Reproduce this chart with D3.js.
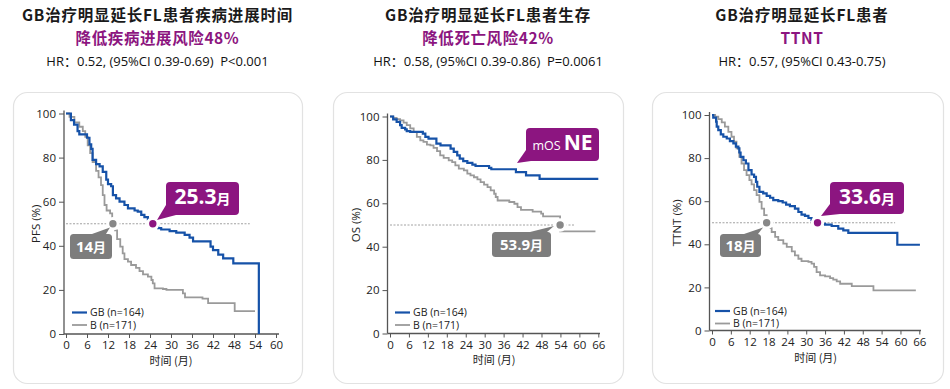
<!DOCTYPE html>
<html><head><meta charset="utf-8">
<script src="https://cdn.jsdelivr.net/npm/d3@7"></script>
<style>
html,body{margin:0;padding:0;background:#fff;}
svg{display:block;}
</style></head>
<body>
<svg id="c" width="950" height="389"></svg>
<script>
// ---------------- DATA ----------------
const titles = ["GB治疗明显延长FL患者疾病进展时间","GB治疗明显延长FL患者生存","GB治疗明显延长FL患者"];
const subtitles = ["降低疾病进展风险48%","降低死亡风险42%","TTNT"];
const hrTexts = ["HR：0.52, (95%CI 0.39-0.69)  P<0.001","HR：0.58, (95%CI 0.39-0.86)  P=0.0061","HR：0.57, (95%CI 0.43-0.75)"];
const yLabels = ["PFS (%)","OS (%)","TTNT (%)"];
const xLabel = "时间 (月)";
const legendLabels = ["GB (n=164)","B (n=171)"];
const xTicks1 = [0,6,12,18,24,30,36,42,48,54,60];
const xTicks23 = [0,6,12,18,24,30,36,42,48,54,60,66];
const yTicks = [0,20,40,60,80,100];

// PFS
const pfsGB = [[0,100],[1.4,97],[2.3,95],[3.3,92],[3.8,90.5],[6,89],[6.7,86],[7.2,84],[7.6,79],[8.6,77],[9.6,76],[10.5,73.5],[11.5,70],[12,68],[12.9,67],[13.4,63],[14.3,61.5],[15.3,60],[16.7,58.5],[17.7,57],[19.6,56],[20.5,55.5],[21.5,54],[22.4,53],[23.4,52],[24.4,51],[25.3,49],[26.3,48],[27.2,47.4],[29.6,46.7],[31.5,46],[33.9,45],[35.3,43.7],[36.3,42],[41.3,39.6],[42,38],[43.5,36],[44.9,34.3],[47.8,32],[55.1,0]];
const pfsB = [[0,100],[1,98.5],[2.4,96],[3.8,94],[4.8,92],[5.5,89.4],[6.2,85.6],[6.9,82],[7.6,78],[8.6,74],[9.3,71],[10,67.5],[10.5,63],[11,58.5],[11.6,56],[12.6,54.7],[13.2,51.7],[14,47],[14.6,43],[15.5,39.6],[16.2,36.6],[16.7,34],[17.7,32.8],[18.6,31.3],[20,30],[21,28.5],[22,27],[23.4,26],[24.4,24.5],[24.8,23],[25.3,20.7],[27.7,20.4],[28.7,20],[33.4,18.4],[34,16.6],[39,16],[40.6,14],[48.2,10.4],[54,10.4]];
// OS
const osGB = [[0,100],[1,98.7],[2.1,97.5],[3.2,96],[3.7,94.8],[4.8,94.1],[5.3,93.3],[6.4,92.9],[10.4,92.1],[11.2,90.6],[12.2,89.8],[14.7,87.5],[16,86.7],[19.2,85.2],[20.2,83.7],[21.3,82.1],[22.1,80.6],[23.2,79.4],[24.5,78.6],[26.1,77.8],[27.1,77.2],[31.4,76.3],[32.1,75.7],[39.9,74.4],[43.1,72.9],[47.4,71.3],[66,71.3]];
const osB = [[0,100],[1,99.4],[2.1,98.8],[3.2,98.2],[4.3,97.2],[5.3,96],[6.4,94.5],[7.5,92.9],[8.5,90.6],[9.6,89],[10.6,88.3],[11.7,87],[12.8,86.7],[13.8,85.5],[14.9,84],[15.9,82.1],[17,80.9],[18.6,79.8],[19.7,79],[20.7,77.5],[21.8,76],[23.4,75.2],[24.5,73.7],[25.5,72.9],[26.6,72],[27.7,71],[28.7,69.8],[29.8,68.6],[30.9,67.5],[31.9,66],[33,64.4],[33.5,62.9],[34.1,61.3],[37.8,60.6],[39.4,59.8],[40.4,58.2],[41.5,57],[45.2,56.2],[47.9,55.2],[48.5,54],[53.9,47.1],[65.1,47.1]];
// TTNT
const ttntGB = [[0,100],[0.4,98.8],[1.3,96.9],[1.5,94.6],[2,93],[2.8,91],[3.6,89.9],[4.7,89.1],[5.7,87.9],[6.8,86.8],[7.6,85.3],[8.4,84.5],[8.7,82.6],[9.1,80.6],[10,79],[10.8,77.5],[11.6,74.4],[12.6,72.4],[13.4,71.3],[14,69],[14.4,66.7],[15.1,64.3],[16.3,63.6],[17.4,62.5],[18.5,61.6],[19.5,60.5],[21.1,60],[22.5,59.4],[23.6,58.4],[24.8,57.7],[26.4,56.6],[27.5,55],[28.5,53.8],[29.6,53.2],[30.7,52.2],[31.7,51.2],[33.6,49.5],[36,49.1],[38.1,48.5],[40.2,47.3],[41.8,46.5],[43.4,45.3],[59,39.8],[66.2,39.8]];
const ttntB = [[0,100],[1,99.2],[2,98.1],[3.1,96.6],[4.1,94.6],[5.2,92.2],[6.2,89.9],[7,87.6],[7.8,84.5],[8.7,80.6],[9.4,77.5],[10.2,74.4],[11,72.1],[11.9,69.8],[12.6,67.8],[13.4,65.1],[14.2,62.8],[15.1,59.7],[15.8,56.6],[16.6,53.5],[17.4,50],[18,47.5],[19,45.7],[20.1,43.4],[21.1,41.9],[22.7,40.3],[23.8,38.8],[25.4,36.7],[26.4,34.9],[27.5,33.3],[28.5,32.2],[30.7,31.8],[31.7,31],[32.5,29.5],[33.3,27.1],[34.4,25.6],[36,25.1],[37.6,24.3],[38.6,23.6],[39.7,22.8],[40.8,21.7],[44.5,20.6],[51.4,18.6],[64.9,18.6]];

// medians: label text and marker position (months)
const gbMedianLabels = ["25.3", "NE", "33.6"];
const gbMedianPos = [24.8, null, 33.6];
const bMedianLabels = ["14", "53.9", "18"];
const bMedianPos = [13.4, 53.9, 17.4];
const medianLine = [52.5, 58.3, 58.3];

// ---------------- DRAW ----------------
const BLUE = "#1652a8", GRAY = "#9a9a9a", PURPLE = "#8c1580", CGRAY = "#7d7d7d";
const svg = d3.select("#c");
const FONT = "'Open Sans','Noto Sans CJK SC',sans-serif";
const CJK = "'Noto Sans CJK SC','Open Sans',sans-serif";

const panels = [
  {box:[13,92,289,291], cx:157.5, x:[66,276], xd:[0,60], y:[334,113.5], yAxisX:64, xEnd:279, ticks:xTicks1, gb:pfsGB, b:pfsB,
   xlabY:365, ylabX:36, legX:72, legY:312.5,
   gbBox:[166,182,73,33], gbTail:[[166,205],[157,220],[176,215]],
   bBox:[70,234,42,25], bTail:[[92,234],[110,227.5],[106,234]]},
  {box:[333,92,290,291], cx:488, x:[390,598.3], xd:[0,66], y:[333.5,116.5], yAxisX:387.5, xEnd:600, ticks:xTicks23, gb:osGB, b:osB,
   xlabY:363.5, ylabX:356, legX:395, legY:312.5,
   gbBox:[526,128,73,33], gbTail:[[526,150],[517,163],[531,161]],
   bBox:[492,232,59,25], bTail:[[530,232],[554,226],[547,232]]},
  {box:[652,92,291,291], cx:802, x:[712,919.3], xd:[0,66], y:[330.5,115], yAxisX:709.5, xEnd:921, ticks:xTicks23, gb:ttntGB, b:ttntB,
   xlabY:362, ylabX:677, legX:715, legY:311,
   gbBox:[830,182,74,32], gbTail:[[830,204],[821,216],[840,214]],
   bBox:[720,234,41,23], bTail:[[744,234],[763,227.5],[758,234]]}
];

panels.forEach((p,i)=>{
  // box
  svg.append("rect").attr("x",p.box[0]+0.5).attr("y",p.box[1]+0.5).attr("width",p.box[2]).attr("height",p.box[3])
    .attr("rx",14).attr("fill","#fff").attr("stroke","#e2e2e2").attr("stroke-width",1.2);

  // titles
  svg.append("text").attr("x",p.cx).attr("y",21).attr("text-anchor","middle")
    .style("font-family",CJK).style("font-size","15.5px").style("font-weight","bold").style("letter-spacing","0.8px")
    .attr("fill","#1a1a1a").text(titles[i]);
  svg.append("text").attr("x",p.cx).attr("y",43.6).attr("text-anchor","middle")
    .style("font-family",CJK).style("font-size","15.5px").style("font-weight","bold").style("letter-spacing","0.6px")
    .attr("fill",PURPLE).text(subtitles[i]);
  svg.append("text").attr("x",p.cx).attr("y",65.5).attr("text-anchor","middle").style("white-space","pre")
    .style("font-family",FONT).style("font-size","13px").attr("fill","#111").text(hrTexts[i]);

  const x = d3.scaleLinear().domain(p.xd).range(p.x);
  const y = d3.scaleLinear().domain([0,100]).range(p.y);
  const g = svg.append("g");

  // axes
  const ya = g.append("g").attr("transform",`translate(${p.yAxisX},0)`)
    .call(d3.axisLeft(y).tickValues(yTicks).tickSize(5).tickPadding(3).tickSizeOuter(0));
  const xa = g.append("g").attr("transform",`translate(0,${p.y[0]})`)
    .call(d3.axisBottom(x).tickValues(p.ticks).tickSize(4).tickPadding(3).tickSizeOuter(0));
  [ya,xa].forEach(a=>{
    a.select(".domain").remove();
    a.selectAll("line").attr("stroke","#555").attr("stroke-width",1);
    a.selectAll("text").style("font-family",FONT).style("font-size","11.5px").attr("fill","#222");
  });
  g.append("line").attr("x1",p.yAxisX).attr("x2",p.yAxisX).attr("y1",y(100)-3).attr("y2",p.y[0]).attr("stroke","#555").attr("stroke-width",1.3);
  g.append("line").attr("x1",p.yAxisX).attr("x2",p.xEnd).attr("y1",p.y[0]).attr("y2",p.y[0]).attr("stroke","#555").attr("stroke-width",1.3);

  // axis labels
  g.append("text").attr("x",(p.x[0]+p.x[1])/2).attr("y",p.xlabY).attr("text-anchor","middle")
    .style("font-family",CJK).style("font-size","11px").attr("fill","#222").text(xLabel);
  g.append("text").attr("transform",`translate(${p.ylabX},${(p.y[0]+p.y[1])/2}) rotate(-90)`).attr("text-anchor","middle")
    .attr("dy","0.35em").style("font-family",FONT).style("font-size","11.5px").attr("fill","#222").text(yLabels[i]);

  // median dashed line
  g.append("line").attr("x1",x(0)).attr("x2",x(medianLine[i])).attr("y1",y(50)).attr("y2",y(50))
    .attr("stroke","#8a8a8a").attr("stroke-width",0.8).attr("stroke-dasharray","2,1.5");

  // curves
  const line = d3.line().x(d=>x(d[0])).y(d=>y(d[1])).curve(d3.curveStepAfter);
  g.append("path").datum(p.b).attr("d",line).attr("fill","none").attr("stroke",GRAY).attr("stroke-width",1.8);
  g.append("path").datum(p.gb).attr("d",line).attr("fill","none").attr("stroke",BLUE).attr("stroke-width",2.2);

  // legend
  const lg = g.append("g");
  [[BLUE,2.2],[GRAY,1.8]].forEach((c,k)=>{
    const ly = p.legY + k*12.5;
    lg.append("line").attr("x1",p.legX).attr("x2",p.legX+15).attr("y1",ly).attr("y2",ly).attr("stroke",c[0]).attr("stroke-width",c[1]);
    lg.append("text").attr("x",p.legX+18).attr("y",ly).attr("dy","0.35em")
      .style("font-family",FONT).style("font-size","10.5px").attr("fill","#222").text(legendLabels[k]);
  });

  // B median dot and callout
  const bx = x(bMedianPos[i]), by = y(50);
  g.append("circle").attr("cx",bx).attr("cy",by).attr("r",5.2).attr("fill","#888").attr("stroke","#fff").attr("stroke-width",3);
  g.append("polygon").attr("points",p.bTail.map(d=>d.join(",")).join(" ")).attr("fill",CGRAY);
  g.append("rect").attr("x",p.bBox[0]).attr("y",p.bBox[1]).attr("width",p.bBox[2]).attr("height",p.bBox[3]).attr("rx",3.5).attr("fill",CGRAY);
  const bt = g.append("text").attr("x",p.bBox[0]+p.bBox[2]/2).attr("y",p.bBox[1]+p.bBox[3]/2).attr("dy","0.36em").attr("text-anchor","middle")
    .style("font-family",FONT).style("font-weight","bold").attr("fill","#fff");
  bt.append("tspan").style("font-size","15px").text(bMedianLabels[i]);
  bt.append("tspan").style("font-size","13px").style("font-family",CJK).text("月");

  // GB median dot and callout
  if (gbMedianPos[i] !== null) {
    g.append("circle").attr("cx",x(gbMedianPos[i])).attr("cy",y(50)).attr("r",5.2).attr("fill",PURPLE).attr("stroke","#fff").attr("stroke-width",3);
  }
  g.append("polygon").attr("points",p.gbTail.map(d=>d.join(",")).join(" ")).attr("fill",PURPLE);
  g.append("rect").attr("x",p.gbBox[0]).attr("y",p.gbBox[1]).attr("width",p.gbBox[2]).attr("height",p.gbBox[3]).attr("rx",4).attr("fill",PURPLE);
  const gt = g.append("text").attr("x",p.gbBox[0]+p.gbBox[2]/2).attr("y",p.gbBox[1]+p.gbBox[3]/2).attr("dy","0.36em").attr("text-anchor","middle")
    .attr("fill","#fff").style("font-family",FONT);
  if (gbMedianPos[i] === null) {
    gt.append("tspan").style("font-size","12.5px").text("mOS");
    gt.append("tspan").attr("dx",3).style("font-size","21px").style("font-weight","bold").text(gbMedianLabels[i]);
  } else {
    gt.append("tspan").style("font-size","21px").style("font-weight","bold").text(gbMedianLabels[i]);
    gt.append("tspan").style("font-size","14px").style("font-weight","bold").style("font-family",CJK).text("月");
  }
});
</script>
</body></html>
